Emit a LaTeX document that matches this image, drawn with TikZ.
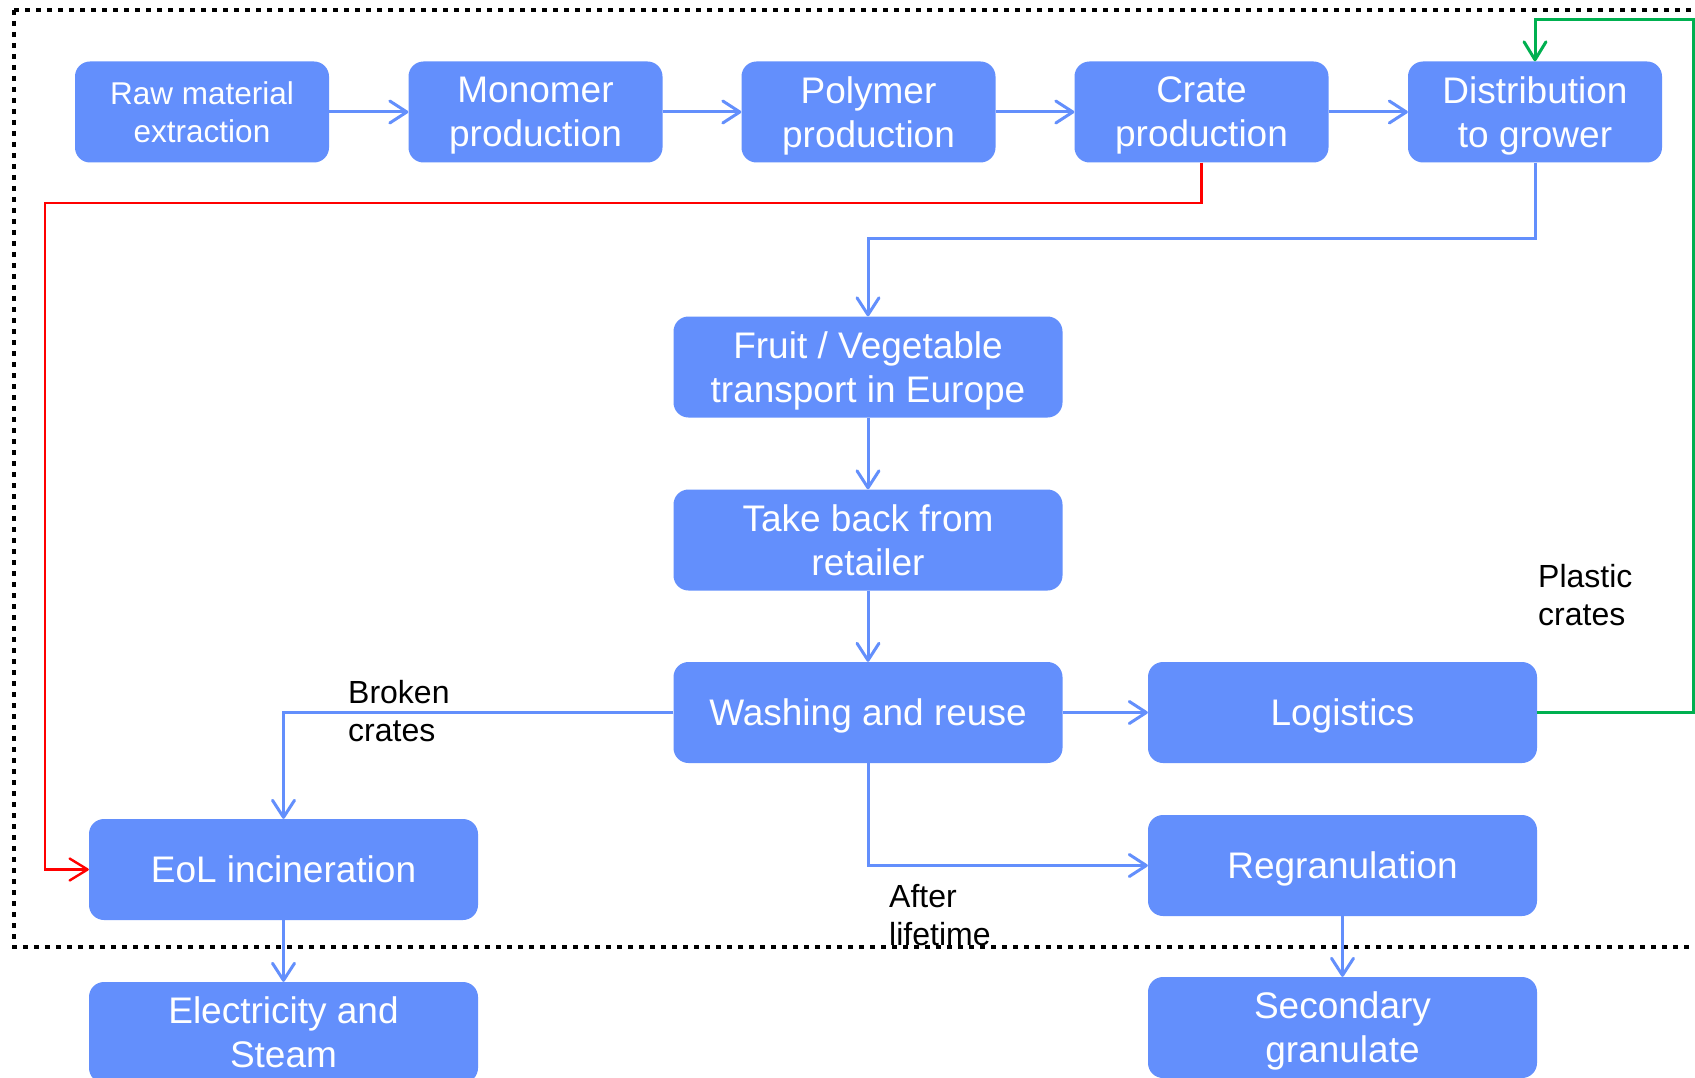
\documentclass[tikz,border=0pt]{standalone}
\usepackage{fontspec}
\setmainfont{Liberation Sans}
\usetikzlibrary{arrows.meta}
\definecolor{boxblue}{RGB}{99,143,252}
\definecolor{flowgreen}{RGB}{0,176,80}
\definecolor{flowred}{RGB}{255,0,0}
\begin{document}
\begin{tikzpicture}[x=1pt,y=-1pt,
  box/.style={rectangle, rounded corners=15pt, fill=boxblue, text=white, align=center,
    minimum width=254pt, minimum height=101pt, inner sep=0pt, text depth=0pt,
    font=\fontsize{37}{44}\selectfont},
  widebox/.style={box, minimum width=389pt},
  lbl/.style={anchor=west, align=left, inner sep=0pt, font=\fontsize{32}{38}\selectfont},
  arr/.style={draw=boxblue, line width=3pt, -{Straight Barb[length=17pt,width=22pt,round]}},
  redarr/.style={draw=flowred, line width=2.4pt, -{Straight Barb[length=18pt,width=22pt,round]}},
  greenarr/.style={draw=flowgreen, line width=3pt, -{Straight Barb[length=18pt,width=22pt,round]}},
  frame/.style={draw=black, line width=4.6pt, dash pattern=on 4.6pt off 6.4pt}
]
\clip (0,0) rectangle (1695,1078);
\fill[white] (0,0) rectangle (1695,1078);

% dotted system boundary
\draw[frame] (14,10) -- (1720,10) (14,10) -- (14,947) -- (1720,947);

% top row
\node[box, font=\fontsize{31.5}{38}\selectfont] (raw) at (202,112) {Raw material\\extraction};
\node[box] (mono) at (535.5,112) {Monomer\\production};
\node[box] (poly) at (868.5,112) {Polymer\\production};
\node[box] (crate) at (1201.5,112) {Crate\\production};
\node[box] (dist) at (1535,112) {Distribution\\to grower};

% middle column
\node[widebox] (fruit) at (868,367) {Fruit / Vegetable\\transport in Europe};
\node[widebox] (take) at (868,540) {Take back from\\retailer};
\node[widebox] (wash) at (868,712.5) {Washing and reuse};
\node[widebox] (logi) at (1342.5,712.5) {Logistics};
\node[widebox] (regr) at (1342.5,865.5) {Regranulation};
\node[widebox] (eol) at (283.5,869.5) {EoL incineration};
\node[widebox] (elec) at (283.5,1032.5) {Electricity and\\Steam};
\node[widebox] (sec) at (1342.5,1027.5) {Secondary\\granulate};

% labels
\node[lbl] (lbroken) at (348,711.5) {Broken\\crates};
\node[lbl] (lafter) at (889,915.5) {After\\lifetime};
\node[lbl] (lplastic) at (1538,595) {Plastic\\crates};

% helper coordinates
\coordinate (r1) at (45,203);
\coordinate (b1) at (868,239);
\coordinate (g1) at (1693,20);

% connectors
\draw[arr] (raw) -- (mono);
\draw[arr] (mono) -- (poly);
\draw[arr] (poly) -- (crate);
\draw[arr] (crate) -- (dist);
\draw[arr] (dist.south) |- (b1) -- (fruit.north);
\draw[arr] (fruit) -- (take);
\draw[arr] (take) -- (wash);
\draw[arr] (wash) -- (logi);
\draw[arr] (wash.west) -| (eol.north);
\draw[arr] (wash.south) |- (regr.west);
\draw[arr] (eol) -- (elec);
\draw[arr] (regr) -- (sec);
\draw[redarr] (crate.south) |- (r1) |- (eol.west);
\draw[greenarr] (logi.east) -| (g1) -| (dist.north);
\end{tikzpicture}
\end{document}
